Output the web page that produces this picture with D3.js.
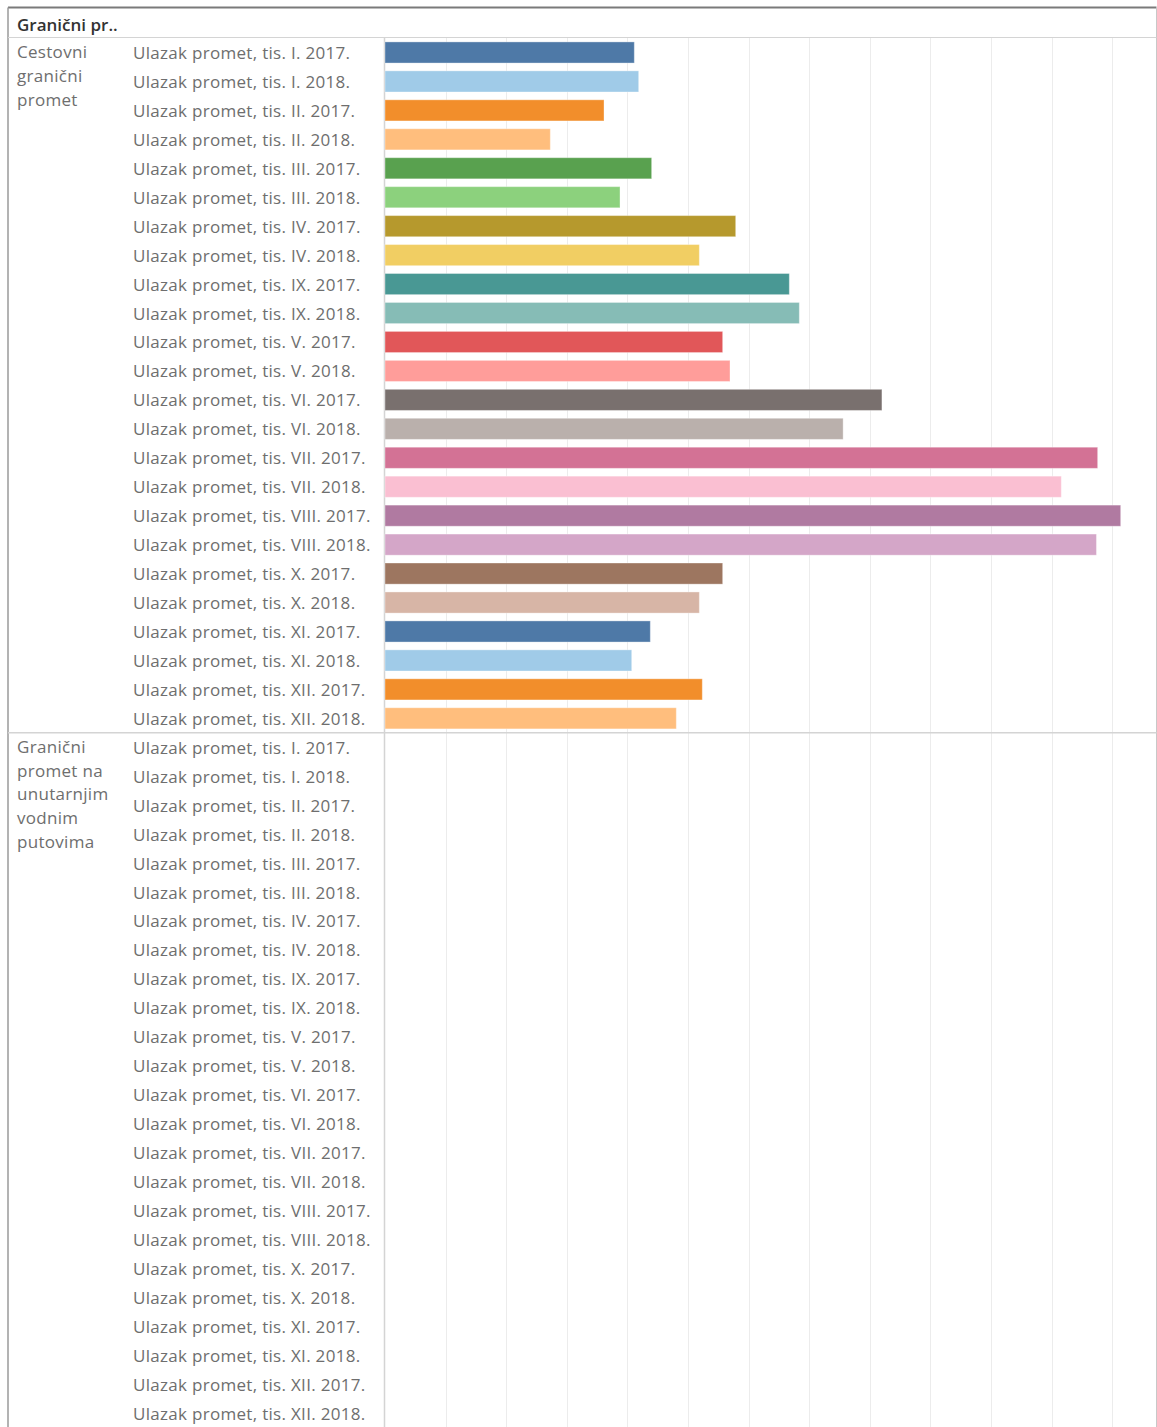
<!DOCTYPE html>
<html>
<head>
<meta charset="utf-8">
<script src="https://cdn.jsdelivr.net/npm/d3@7"></script>
<style>
  body { margin: 0; background: #fff; }
  text { font-family: "Open Sans", "Noto Sans", sans-serif; }
</style>
</head>
<body>
<div id="chart"></div>
<script>
// --------------------------------------
//  Data
// --------------------------------------

const headerTitle = "Granični pr..";

const groups = ["Cestovni granični promet", "Granični promet na unutarnjim vodnim putovima"];
const groupLines = [
  ["Cestovni", "granični", "promet"],
  ["Granični", "promet na", "unutarnjim", "vodnim", "putovima"]
];

const periods = [
  "I. 2017.", "I. 2018.", "II. 2017.", "II. 2018.", "III. 2017.", "III. 2018.",
  "IV. 2017.", "IV. 2018.", "IX. 2017.", "IX. 2018.", "V. 2017.", "V. 2018.",
  "VI. 2017.", "VI. 2018.", "VII. 2017.", "VII. 2018.", "VIII. 2017.", "VIII. 2018.",
  "X. 2017.", "X. 2018.", "XI. 2017.", "XI. 2018.", "XII. 2017.", "XII. 2018."
];

// entries, thousands
const roadValues = [
  4114, 4186, 3614, 2728, 4400, 3878,
  5787, 5187, 6672, 6837, 5572, 5693,
  8200, 7560, 11760, 11160, 12140, 11740,
  5572, 5187, 4378, 4071, 5236, 4807
];
const waterValues = [
  null, null, null, null, null, null,
  null, null, null, null, null, null,
  null, null, null, null, null, null,
  null, null, null, null, null, null
];

const palette = [
  "#4E79A7", "#A0CBE8", "#F28E2B", "#FFBE7D", "#59A14F", "#8CD17D",
  "#B6992D", "#F1CE63", "#499894", "#86BCB6", "#E15759", "#FF9D9A",
  "#79706E", "#BAB0AC", "#D37295", "#FABFD2", "#B07AA1", "#D4A6C8",
  "#9D7660", "#D7B5A6"
];

// --------------------------------------
//  Canvas
// --------------------------------------

const W = 1157, H = 1427;
const frame = { left: 8, right: 1156.5, top: 7.5, header: 37.5 };
const plotLeft = 385;
const rowTop = 38, rowStep = 28.95;

const svg = d3.select("#chart")
  .append("svg")
  .attr("width", W)
  .attr("height", H);

const rows = [];
groups.forEach((g, gi) => {
  const vals = gi === 0 ? roadValues : waterValues;
  periods.forEach((p, i) => {
    rows.push({ group: g, gi: gi, period: p, key: g + "|" + p, value: vals[i] });
  });
});

// --------------------------------------
//  Scales
// --------------------------------------

const y = d3.scaleBand()
  .domain(rows.map(d => d.key))
  .range([rowTop, rowTop + rows.length * rowStep])
  .paddingInner(0.27)
  .paddingOuter(0.135);

const x = d3.scaleLinear()
  .domain([0, 12731])
  .range([plotLeft, frame.right]);

const color = d3.scaleOrdinal()
  .domain(periods)
  .range(palette);

// --------------------------------------
//  Grid + frame
// --------------------------------------

svg.append("g")
  .selectAll("line")
  .data(x.ticks(13).filter(t => t > 0))
  .join("line")
  .attr("x1", d => Math.round(x(d)) + 0.5)
  .attr("x2", d => Math.round(x(d)) + 0.5)
  .attr("y1", rowTop)
  .attr("y2", H)
  .attr("stroke", "#ececec")
  .attr("stroke-width", 1);

const lines = svg.append("g");
lines.append("line") // top
  .attr("x1", frame.left).attr("x2", frame.right)
  .attr("y1", frame.top).attr("y2", frame.top)
  .attr("stroke", "#7a7a7a").attr("stroke-width", 2);
lines.append("line") // left
  .attr("x1", frame.left).attr("x2", frame.left)
  .attr("y1", frame.top).attr("y2", H)
  .attr("stroke", "#9a9a9a").attr("stroke-width", 1.5);
lines.append("line") // right
  .attr("x1", frame.right).attr("x2", frame.right)
  .attr("y1", frame.top).attr("y2", H)
  .attr("stroke", "#c8c8c8").attr("stroke-width", 1);
lines.append("line") // header bottom
  .attr("x1", frame.left).attr("x2", frame.right)
  .attr("y1", frame.header).attr("y2", frame.header)
  .attr("stroke", "#d4d4d4").attr("stroke-width", 1);
lines.append("line") // plot left
  .attr("x1", plotLeft - 0.5).attr("x2", plotLeft - 0.5)
  .attr("y1", rowTop).attr("y2", H)
  .attr("stroke", "#d4d4d4").attr("stroke-width", 1.5);

// group separator
const sepY = rowTop + periods.length * rowStep;
lines.append("line")
  .attr("x1", frame.left).attr("x2", frame.right)
  .attr("y1", sepY).attr("y2", sepY)
  .attr("stroke", "#d4d4d4").attr("stroke-width", 1.5);

// --------------------------------------
//  Bars
// --------------------------------------

svg.append("g")
  .selectAll("rect")
  .data(rows.filter(d => d.value != null))
  .join("rect")
  .attr("x", x(0))
  .attr("y", d => y(d.key))
  .attr("width", d => x(d.value) - x(0))
  .attr("height", y.bandwidth())
  .attr("fill", d => color(d.period))
  .attr("stroke", "#fff")
  .attr("stroke-opacity", 0.35)
  .attr("stroke-width", 1);

// --------------------------------------
//  Text
// --------------------------------------

svg.append("text")
  .attr("x", 17)
  .attr("y", 24)
  .attr("dominant-baseline", "central")
  .attr("font-size", 17)
  .attr("font-weight", 600)
  .attr("fill", "#333")
  .text(headerTitle);

svg.append("g")
  .selectAll("text")
  .data(rows)
  .join("text")
  .attr("x", 133)
  .attr("y", d => y(d.key) + y.bandwidth() / 2)
  .attr("dominant-baseline", "central")
  .attr("font-size", 17)
  .attr("letter-spacing", 0.3)
  .attr("fill", "#6e6e6e")
  .text(d => "Ulazak promet, tis. " + d.period);

groups.forEach((g, gi) => {
  const firstKey = g + "|" + periods[0];
  const cy = y(firstKey) + y.bandwidth() / 2;
  svg.append("g")
    .selectAll("text")
    .data(groupLines[gi])
    .join("text")
    .attr("x", 17)
    .attr("y", (d, i) => cy - 1 + i * 23.8)
    .attr("dominant-baseline", "central")
    .attr("font-size", 17)
    .attr("letter-spacing", 0.3)
    .attr("fill", "#6e6e6e")
    .text(d => d);
});
</script>
</body>
</html>
